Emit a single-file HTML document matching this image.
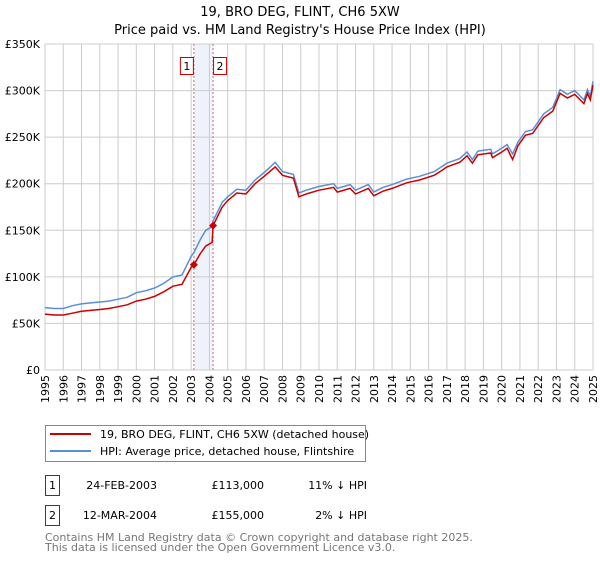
<!DOCTYPE html>
<html><head><meta charset="utf-8"><style>
body{margin:0;background:#fff;font-family:"DejaVu Sans","Liberation Sans",sans-serif;}
svg text{font-family:"DejaVu Sans","Liberation Sans",sans-serif;}
</style></head><body>
<svg id="c" width="600" height="560" xmlns="http://www.w3.org/2000/svg">
<text x="300" y="16" text-anchor="middle" font-size="13">19, BRO DEG, FLINT, CH6 5XW</text>
<text x="300" y="34" text-anchor="middle" font-size="13">Price paid vs. HM Land Registry's House Price Index (HPI)</text>
<g id="grid"></g><g id="marks"></g>
<g>
<rect x="45.5" y="425.5" width="320" height="36" fill="#fff" stroke="#888"/>
<line x1="50" y1="434" x2="91" y2="434" stroke="#cc0000" stroke-width="2"/>
<text x="100" y="438" font-size="11">19, BRO DEG, FLINT, CH6 5XW (detached house)</text>
<line x1="50" y1="451" x2="91" y2="451" stroke="#5b8fd4" stroke-width="2"/>
<text x="100" y="455" font-size="11">HPI: Average price, detached house, Flintshire</text>
</g>
<g font-size="11">
<rect x="45.5" y="475.5" width="14" height="20" fill="#fff" stroke="#cc0000"/><text x="52.5" y="489" text-anchor="middle">1</text>
<text x="157" y="489" text-anchor="end">24-FEB-2003</text><text x="264" y="489" text-anchor="end">£113,000</text><text x="367" y="489" text-anchor="end">11% ↓ HPI</text>
<rect x="45.5" y="505.5" width="14" height="20" fill="#fff" stroke="#cc0000"/><text x="52.5" y="519" text-anchor="middle">2</text>
<text x="157" y="519" text-anchor="end">12-MAR-2004</text><text x="264" y="519" text-anchor="end">£155,000</text><text x="367" y="519" text-anchor="end">2% ↓ HPI</text>
</g>
<text x="45" y="541" font-size="11" fill="#777">Contains HM Land Registry data © Crown copyright and database right 2025.</text>
<text x="45" y="551" font-size="11" fill="#777">This data is licensed under the Open Government Licence v3.0.</text>
</svg>
<script>
const years=[1995,1995.5,1996,1996.5,1997,1997.5,1998,1998.5,1999,1999.5,2000,2000.5,2001,2001.5,2002,2002.5,2003,2003.15,2003.5,2003.8,2004.15,2004.2,2004.7,2005,2005.5,2006,2006.5,2007,2007.6,2008,2008.6,2008.9,2009.3,2010,2010.8,2011,2011.7,2012,2012.7,2013,2013.5,2014,2014.8,2015.5,2016.3,2016.7,2017,2017.7,2018.1,2018.4,2018.7,2019.4,2019.5,2020,2020.3,2020.6,2020.9,2021.3,2021.7,2022.3,2022.8,2023.2,2023.6,2024,2024.5,2024.7,2024.85,2025];
const hpi=[67,66,66,69,71,72,73,74,76,78,83,85,88,93,100,102,122,126,140,150,154,160,180,186,194,193,204,212,223,213,210,190,193,197,200,195,199,193,199,191,196,199,205,208,213,218,222,227,234,226,235,237,232,238,242,232,245,256,258,275,282,301,296,300,290,301,294,310];
const price=[60,59,59,61,63,64,65,66,68,70,74,76,79,84,90,92,110,113,125,133,137,155,175,182,190,189,200,208,218,209,206,186,189,193,196,191,195,189,195,187,192,195,201,204,209,214,218,223,230,222,231,233,228,234,238,226,241,252,254,271,278,297,292,296,286,297,290,306];
const sales=[[2003.15,113],[2004.2,155]];
const yTicks=[0,50,100,150,200,250,300,350];
const xTicks=[1995,1996,1997,1998,1999,2000,2001,2002,2003,2004,2005,2006,2007,2008,2009,2010,2011,2012,2013,2014,2015,2016,2017,2018,2019,2020,2021,2022,2023,2024,2025];
const X=y=>45+(y-1995)*(548/30), Y=v=>370-v*326/350;
const NS="http://www.w3.org/2000/svg";
function mk(p,t,a){const e=document.createElementNS(NS,t);for(const k in a)e.setAttribute(k,a[k]);p.appendChild(e);return e;}
const g=document.getElementById('grid'),m=document.getElementById('marks');
const band=mk(g,'rect',{x:X(2003.15),y:44,width:X(2004.2)-X(2003.15),height:326,fill:'#eef3fb'});


for(const v of yTicks){
 const l=mk(g,'line',{x1:45,x2:593,y1:Y(v),y2:Y(v),stroke:'#ccc'});
 
 
 const t=mk(g,'text',{x:40,y:Y(v)+4,'text-anchor':'end','font-size':11});
 t.textContent=v?'£'+v+'K':'£0';
 
 
}
for(const yr of xTicks){
 const l=mk(g,'line',{x1:X(yr),x2:X(yr),y1:44,y2:370,stroke:'#ccc'});
 
 
 const t=mk(g,'text',{x:0,y:0,'text-anchor':'end','font-size':11,transform:`translate(${X(yr)+4},375) rotate(-90)`});
 t.textContent=yr;
 
 
}
sales.forEach((s,i)=>{
 const l=mk(m,'line',{x1:X(s[0]),x2:X(s[0]),y1:44,y2:370,stroke:'#e06666','stroke-dasharray':'2,2'});
 
 
 const bx=X(s[0])+(i?0:-14);
 const r=mk(m,'rect',{x:bx+0.5,y:57.5,width:13,height:17,fill:'#fff',stroke:'#cc0000'});
 
 
 const t=mk(m,'text',{x:bx+7,y:70,'text-anchor':'middle','font-size':11});t.textContent=i+1;
 
 
});
const path=a=>a.map((v,i)=>(i?'L':'M')+X(years[i]).toFixed(1)+','+Y(v).toFixed(1)).join('');
const h=mk(m,'path',{d:path(hpi),fill:'none',stroke:'#5b8fd4','stroke-width':1.5});


const p=mk(m,'path',{d:path(price),fill:'none',stroke:'#cc0000','stroke-width':1.5});


for(const s of sales){
 const d=mk(m,'path',{d:`M${X(s[0])-4},${Y(s[1])}l4,-4l4,4l-4,4z`,fill:'#cc0000'});
 
 
}
</script>
</body></html>
